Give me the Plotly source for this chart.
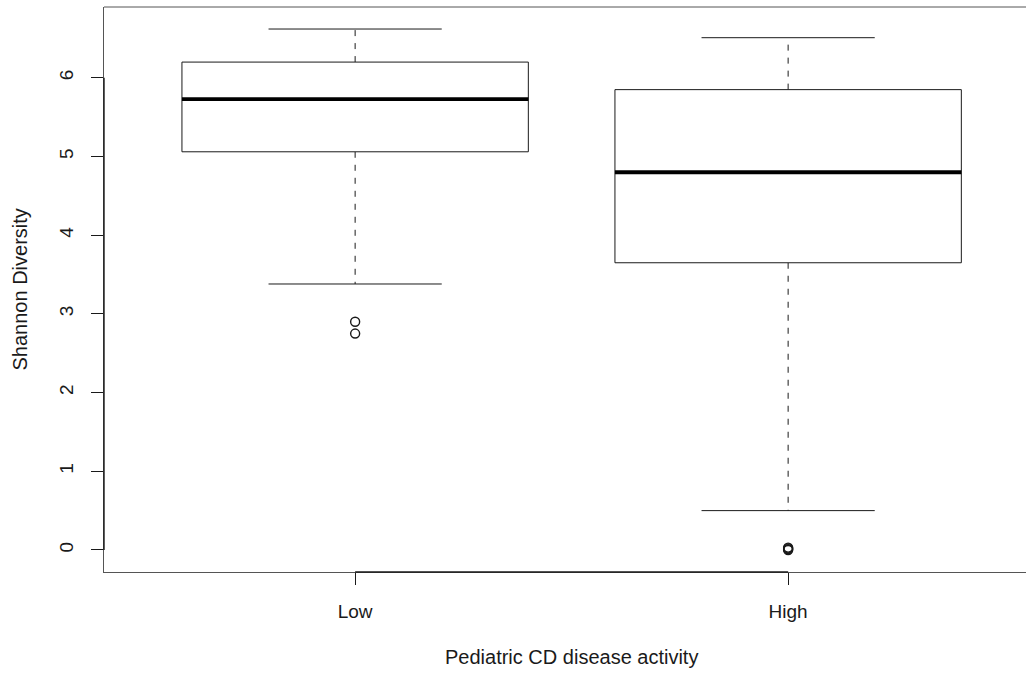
import plotly.graph_objects as go

# Shannon diversity summary by disease activity group
groups = ["Low", "High"]
positions = [1, 2]
lower_whisker = [3.38, 0.50]
q1 = [5.06, 3.65]
median = [5.73, 4.80]
q3 = [6.20, 5.85]
upper_whisker = [6.62, 6.51]
outliers = [[2.90, 2.75], [0.03, 0.02, 0.01, 0.0]]

y_ticks = [0, 1, 2, 3, 4, 5, 6]

BOX_HALF = 0.4      # half box width in x units
CAP_HALF = 0.2      # half whisker-cap width
FONT = "Liberation Sans, Arial, Helvetica, sans-serif"
INK = "#1a1a1a"
FRAME = "#555555"

fig = go.Figure()

for pos, lo, a, m, b, hi, outs in zip(positions, lower_whisker, q1, median,
                                      q3, upper_whisker, outliers):
    # dashed whiskers
    fig.add_trace(go.Scatter(
        x=[pos, pos, None, pos, pos], y=[b, hi, None, a, lo],
        mode="lines", line=dict(color=INK, width=1, dash="6px,7px"),
        hoverinfo="skip", showlegend=False))
    # whisker caps
    fig.add_trace(go.Scatter(
        x=[pos - CAP_HALF, pos + CAP_HALF, None, pos - CAP_HALF, pos + CAP_HALF],
        y=[hi, hi, None, lo, lo],
        mode="lines", line=dict(color=INK, width=1),
        hoverinfo="skip", showlegend=False))
    # box
    fig.add_trace(go.Scatter(
        x=[pos - BOX_HALF, pos + BOX_HALF, pos + BOX_HALF, pos - BOX_HALF, pos - BOX_HALF],
        y=[a, a, b, b, a],
        mode="lines", line=dict(color=INK, width=1),
        fill="toself", fillcolor="white",
        hoverinfo="skip", showlegend=False))
    # median
    fig.add_trace(go.Scatter(
        x=[pos - BOX_HALF, pos + BOX_HALF], y=[m, m],
        mode="lines", line=dict(color="black", width=3.8),
        hoverinfo="skip", showlegend=False))
    # outliers
    fig.add_trace(go.Scatter(
        x=[pos] * len(outs), y=outs, mode="markers",
        marker=dict(symbol="circle-open", size=9, color=INK,
                    line=dict(width=1.4, color=INK)),
        hoverinfo="skip", showlegend=False))

fig.update_layout(
    width=1026, height=673,
    margin=dict(l=104, r=0, t=7, b=101),
    paper_bgcolor="white", plot_bgcolor="white",
    font=dict(family=FONT, size=19, color=INK),
    xaxis=dict(
        range=[0.42, 0.42 + 922 / 433], tickvals=positions, ticktext=groups,
        showgrid=False, zeroline=False, showline=True, linecolor=FRAME,
        linewidth=1, ticks="outside", ticklen=12, tickcolor=INK,
        ticklabelstandoff=10),
    yaxis=dict(
        range=[-0.28, 6.90], tickvals=y_ticks,
        showgrid=False, zeroline=False, showline=True, linecolor=FRAME,
        linewidth=1, ticks="outside", ticklen=12, tickcolor=INK,
        tickangle=-90, ticklabelstandoff=10),
    shapes=[
        # top of the plot frame
        dict(type="line", xref="paper", yref="paper", x0=0, x1=1.05,
             y0=1, y1=1, line=dict(color=FRAME, width=1)),
        # axis segments spanning first to last tick
        dict(type="line", xref="x", yref="paper", x0=positions[0],
             x1=positions[-1], y0=0, y1=0, line=dict(color=INK, width=1.4)),
        dict(type="line", xref="paper", yref="y", x0=0, x1=0,
             y0=y_ticks[0], y1=y_ticks[-1], line=dict(color=INK, width=1.4)),
    ],
    annotations=[
        dict(text="Shannon Diversity", xref="paper", yref="paper",
             x=(19 - 104) / 922, y=0.5, xanchor="center", yanchor="middle",
             textangle=-90, showarrow=False, font=dict(size=20)),
        dict(text="Pediatric CD disease activity", xref="x", yref="paper",
             x=1.5, y=(572 - 657) / 565, xanchor="center", yanchor="middle",
             showarrow=False, font=dict(size=20)),
    ],
)

fig.write_html("out.html")
